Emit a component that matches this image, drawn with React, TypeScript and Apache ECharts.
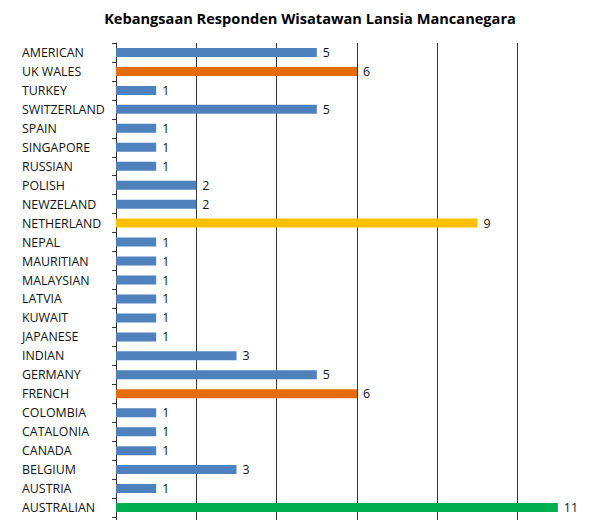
import React, { useEffect, useRef } from "react";
import * as echarts from "echarts";

const categories = [
  "AMERICAN", "UK WALES", "TURKEY", "SWITZERLAND", "SPAIN", "SINGAPORE", "RUSSIAN",
  "POLISH", "NEWZELAND", "NETHERLAND", "NEPAL", "MAURITIAN", "MALAYSIAN", "LATVIA",
  "KUWAIT", "JAPANESE", "INDIAN", "GERMANY", "FRENCH", "COLOMBIA", "CATALONIA",
  "CANADA", "BELGIUM", "AUSTRIA", "AUSTRALIAN",
];
const values = [5, 6, 1, 5, 1, 1, 1, 2, 2, 9, 1, 1, 1, 1, 1, 1, 3, 5, 6, 1, 1, 1, 3, 1, 11];
const barColors: Record<string, string> = {
  "UK WALES": "#E46C0A",
  "FRENCH": "#E46C0A",
  "NETHERLAND": "#FFC000",
  "AUSTRALIAN": "#00B050",
};
const defaultColor = "#4F81BD";
const title = "Kebangsaan Responden Wisatawan Lansia Mancanegara";

export default function App() {
  const ref = useRef<HTMLDivElement>(null);
  useEffect(() => {
    if (!ref.current) return;
    const chart = echarts.init(ref.current, null, { renderer: "svg" });
    const font = "'Open Sans', sans-serif";
    chart.setOption({
      animation: false,
      graphic: [
        {
          type: "rect",
          z: 100,
          silent: true,
          shape: { x: 7, y: 6, width: 620, height: 540 },
          style: { fill: "none", stroke: "#8c8c8c", lineWidth: 1.5 },
        },
        {
          type: "text",
          x: 310,
          y: 18,
          silent: true,
          style: {
            text: title,
            align: "center",
            verticalAlign: "middle",
            fontFamily: font,
            fontSize: 14.6,
            fontWeight: "bold",
            fill: "#000",
          },
        },
      ],
      grid: { left: 116, right: 7, top: 43, bottom: 11, containLabel: false },
      xAxis: {
        type: "value",
        min: 0,
        max: 12,
        interval: 2,
        axisLabel: { show: false },
        axisLine: { show: false },
        axisTick: { show: true, length: 3, lineStyle: { color: "#333" } },
        splitLine: { show: true, lineStyle: { color: "#333", width: 1 } },
      },
      yAxis: {
        type: "category",
        inverse: true,
        data: categories,
        axisLine: { show: true, lineStyle: { color: "#333", width: 1 } },
        axisTick: { show: true, length: 4, lineStyle: { color: "#333" } },
        axisLabel: {
          align: "left",
          margin: 94,
          fontFamily: font,
          fontSize: 12.4,
          color: "#111",
        },
      },
      series: [
        {
          type: "bar",
          barWidth: 9,
          data: values.map((v, i) => ({
            value: v,
            itemStyle: { color: barColors[categories[i]] || defaultColor },
          })),
          label: {
            show: true,
            position: "right",
            distance: 6,
            fontFamily: font,
            fontSize: 12.4,
            color: "#111",
          },
        },
      ],
    });
    return () => chart.dispose();
  }, []);
  return (
    <div
      style={{
        position: "relative",
        width: 605,
        height: 528,
        margin: -8,
        background: "#fff",
        overflow: "hidden",
        boxShadow: "inset 8px 7px 0 -6px #8c8c8c",
      }}
    >
      <div ref={ref} style={{ position: "absolute", left: 0, top: 0, width: 605, height: 528 }} />
    </div>
  );
}
